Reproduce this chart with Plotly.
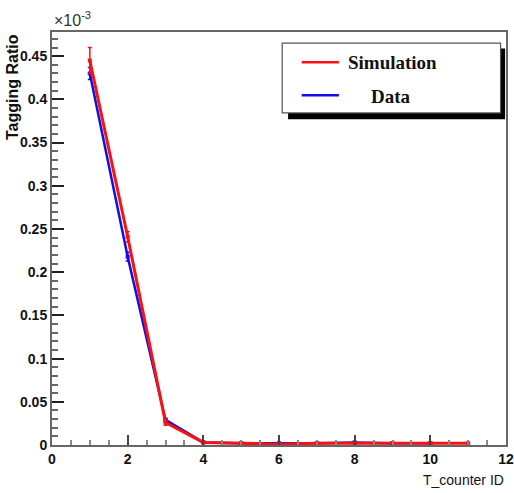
import plotly.graph_objects as go

# Tagging ratio per T-counter (values in units of 1e-3)
sim_ids = [1, 2, 3, 4, 5, 6, 7, 8, 9, 10, 11]
sim_ratio = [0.445, 0.241, 0.026, 0.003, 0.002, 0.001, 0.002, 0.002, 0.002, 0.002, 0.002]
sim_err = [0.015, 0.006, 0.003, 0.001, 0.001, 0.001, 0.001, 0.001, 0.001, 0.001, 0.001]

data_ids = [1, 2, 3, 4, 5, 6, 7, 8, 9, 10]
data_ratio = [0.430, 0.218, 0.029, 0.003, 0.002, 0.002, 0.002, 0.003, 0.002, 0.002]
data_err = [0.007, 0.005, 0.002, 0.001, 0.001, 0.001, 0.001, 0.001, 0.001, 0.001]

x_ticks = [0, 2, 4, 6, 8, 10, 12]
y_ticks = [0, 0.05, 0.1, 0.15, 0.2, 0.25, 0.3, 0.35, 0.4, 0.45]
y_tick_text = ["0", "0.05", "0.1", "0.15", "0.2", "0.25", "0.3", "0.35", "0.4", "0.45"]

RED = "#ff1010"
BLUE = "#1010e0"
SANS = "Liberation Sans, Arial, sans-serif"
SERIF = "Liberation Serif, Times New Roman, serif"

fig = go.Figure()
fig.add_trace(go.Scatter(
    x=data_ids, y=data_ratio, mode="lines+markers", name="Data",
    line=dict(color=BLUE, width=2.5),
    marker=dict(color=BLUE, size=4, symbol="square"),
    error_y=dict(type="data", array=data_err, color=BLUE, thickness=1.5, width=2),
    showlegend=False,
))
fig.add_trace(go.Scatter(
    x=sim_ids, y=sim_ratio, mode="lines+markers", name="Simulation",
    line=dict(color=RED, width=3),
    marker=dict(color=RED, size=4, symbol="square"),
    error_y=dict(type="data", array=sim_err, color=RED, thickness=1.5, width=2),
    showlegend=False,
))

tickfont = dict(family=SANS, size=14, color="#111", weight="bold")

fig.update_layout(
    width=514, height=493,
    margin=dict(l=52, r=8, t=32, b=48),
    paper_bgcolor="white", plot_bgcolor="white",
    xaxis=dict(
        range=[0, 12], tickvals=x_ticks, ticks="inside", ticklen=10,
        tickcolor="#444", tickwidth=1.5,
        minor=dict(dtick=0.5, ticks="inside", ticklen=5, tickcolor="#888"),
        showgrid=False, zeroline=False, showline=True, mirror=True,
        linecolor="#666", linewidth=2, automargin=False,
        tickfont=tickfont, ticklabeloverflow="allow",
    ),
    yaxis=dict(
        range=[0, 0.478], tickvals=y_ticks, ticktext=y_tick_text,
        ticks="inside", ticklen=12, tickcolor="#222", tickwidth=1.5,
        minor=dict(dtick=0.01, ticks="inside", ticklen=6, tickcolor="#666"),
        showgrid=False, zeroline=False, showline=True, mirror=True,
        linecolor="#666", linewidth=2, automargin=False,
        tickfont=tickfont, ticklabeloverflow="allow",
    ),
    font=dict(family=SANS, color="#111"),
)

annotations = [
    dict(text="<b>Tagging Ratio</b>", xref="paper", yref="paper",
         x=0.0, xshift=-40, y=1.0, xanchor="center", yanchor="top", textangle=-90,
         showarrow=False, font=dict(size=16, color="#111")),
    dict(text="×10<sup>-3</sup>", xref="paper", yref="paper",
         x=0.0, y=1.0, xanchor="left", yanchor="bottom", yshift=1,
         showarrow=False, font=dict(size=16, color="#333")),
    dict(text="T_counter ID", xref="paper", yref="paper",
         x=1.0, y=0, xanchor="right", yanchor="top", yshift=-25,
         showarrow=False, font=dict(family=SANS, size=14, color="#111")),
    dict(text="<b>Simulation</b>", xref="paper", yref="paper",
         x=0.647, y=0.927, xanchor="left", yanchor="middle",
         showarrow=False, font=dict(family=SERIF, size=19, color="#111")),
    dict(text="<b>Data</b>", xref="paper", yref="paper",
         x=0.746, y=0.843, xanchor="center", yanchor="middle",
         showarrow=False, font=dict(family=SERIF, size=19, color="#111")),
]
fig.update_layout(annotations=annotations)

shapes = [
    # legend drop shadow
    dict(type="rect", xref="paper", yref="paper", x0=0.52, x1=0.998, y0=0.789, y1=0.96,
         fillcolor="black", line=dict(width=0), layer="above"),
    # legend frame
    dict(type="rect", xref="paper", yref="paper", x0=0.507, x1=0.988, y0=0.804, y1=0.973,
         fillcolor="white", line=dict(color="#555", width=1.2), layer="above"),
    dict(type="line", xref="paper", yref="paper", x0=0.55, x1=0.632, y0=0.927, y1=0.927,
         line=dict(color=RED, width=2.5), layer="above"),
    dict(type="line", xref="paper", yref="paper", x0=0.55, x1=0.632, y0=0.847, y1=0.847,
         line=dict(color=BLUE, width=2.5), layer="above"),
]
fig.update_layout(shapes=shapes)

fig.write_html("out.html")
